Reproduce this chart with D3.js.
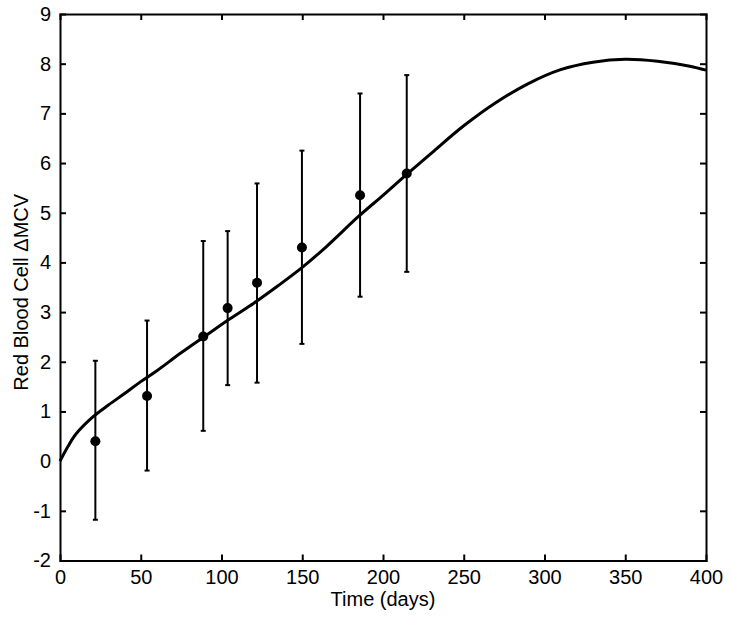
<!DOCTYPE html>
<html><head><meta charset="utf-8">
<script src="https://cdn.jsdelivr.net/npm/d3@7"></script>
<style>body{margin:0;background:#fff}svg{display:block}text{font-family:"Liberation Sans",Arial,sans-serif;fill:#000}</style>
</head><body><div id="chart"></div>
<script>
const xTicks=[0,50,100,150,200,250,300,350,400];
const yTicks=[-2,-1,0,1,2,3,4,5,6,7,8,9];
const obsDays=[21.9,53.9,88.7,103.8,122,149.8,185.8,214.7];
const obsMean=[0.40,1.31,2.51,3.08,3.59,4.30,5.35,5.79];
const obsLow=[-1.18,-0.19,0.61,1.53,1.58,2.36,3.31,3.81];
const obsHigh=[2.02,2.83,4.43,4.63,5.59,6.25,7.40,7.77];
const fitDays=[0,5,10,20,30,40,50,60,75,90,105,120,135,150,165,185,200,215,230,250,270,290,310,330,350,370,390,400];
const fitVal=[0,0.3,0.55,0.88,1.13,1.36,1.6,1.82,2.18,2.52,2.86,3.18,3.53,3.9,4.32,4.93,5.35,5.78,6.2,6.75,7.22,7.6,7.88,8.03,8.09,8.05,7.95,7.87];

const W=730,H=623,m={l:60,t:14,r:24,b:62.5};
const svg=d3.select("#chart").append("svg").attr("width",W).attr("height",H);
const x=d3.scaleLinear().domain([0,400]).range([m.l,W-m.r]);
const y=d3.scaleLinear().domain([-2,9]).range([H-m.b,m.t]);
const fs=20,tl=6,fmt=d=>String(d);
const g=svg.append("g");
const ax=[
 [d3.axisBottom(x).tickValues(xTicks).tickSize(-tl).tickPadding(9).tickFormat(fmt),`translate(0,${y(-2)})`],
 [d3.axisTop(x).tickValues(xTicks).tickSize(-tl).tickFormat(""),`translate(0,${y(9)})`],
 [d3.axisLeft(y).tickValues(yTicks).tickSize(-tl).tickPadding(9).tickFormat(fmt),`translate(${x(0)},0)`],
 [d3.axisRight(y).tickValues(yTicks).tickSize(-tl).tickFormat(""),`translate(${x(400)},0)`]
];
ax.forEach(([a,t])=>{
 const s=g.append("g").attr("transform",t).call(a);
 s.select(".domain").attr("stroke","#000").attr("stroke-width",2);
 s.selectAll(".tick line").attr("stroke","#000").attr("stroke-width",2);
 s.selectAll(".tick text").attr("font-size",fs).attr("font-family","Liberation Sans, Arial, sans-serif").attr("fill","#000");
});
g.selectAll(".tick").filter(d=>d===0||d===400||d===-2||d===9).select("line").remove();
svg.append("path").datum(fitDays.map((d,i)=>[d,fitVal[i]]))
 .attr("fill","none").attr("stroke","#000").attr("stroke-width",3)
 .attr("d",d3.line().x(d=>x(d[0])).y(d=>y(d[1])).curve(d3.curveCatmullRom));
const eb=svg.append("g").attr("stroke","#000").attr("stroke-width",2);
obsDays.forEach((d,i)=>{
 eb.append("line").attr("x1",x(d)).attr("x2",x(d)).attr("y1",y(obsLow[i])).attr("y2",y(obsHigh[i]));
 [obsLow[i],obsHigh[i]].forEach(v=>eb.append("line").attr("x1",x(d)-2.5).attr("x2",x(d)+2.5).attr("y1",y(v)).attr("y2",y(v)));
});
svg.append("g").selectAll("circle").data(obsDays).join("circle")
 .attr("cx",d=>x(d)).attr("cy",(d,i)=>y(obsMean[i])).attr("r",5).attr("fill","#000");
svg.append("text").attr("x",(x(0)+x(400))/2).attr("y",606).attr("text-anchor","middle").attr("font-size",20).text("Time (days)");
svg.append("text").attr("transform",`translate(28,${(y(-2)+y(9))/2+5}) rotate(-90)`).attr("text-anchor","middle").attr("font-size",20).text("Red Blood Cell \u0394MCV");
</script></body></html>
